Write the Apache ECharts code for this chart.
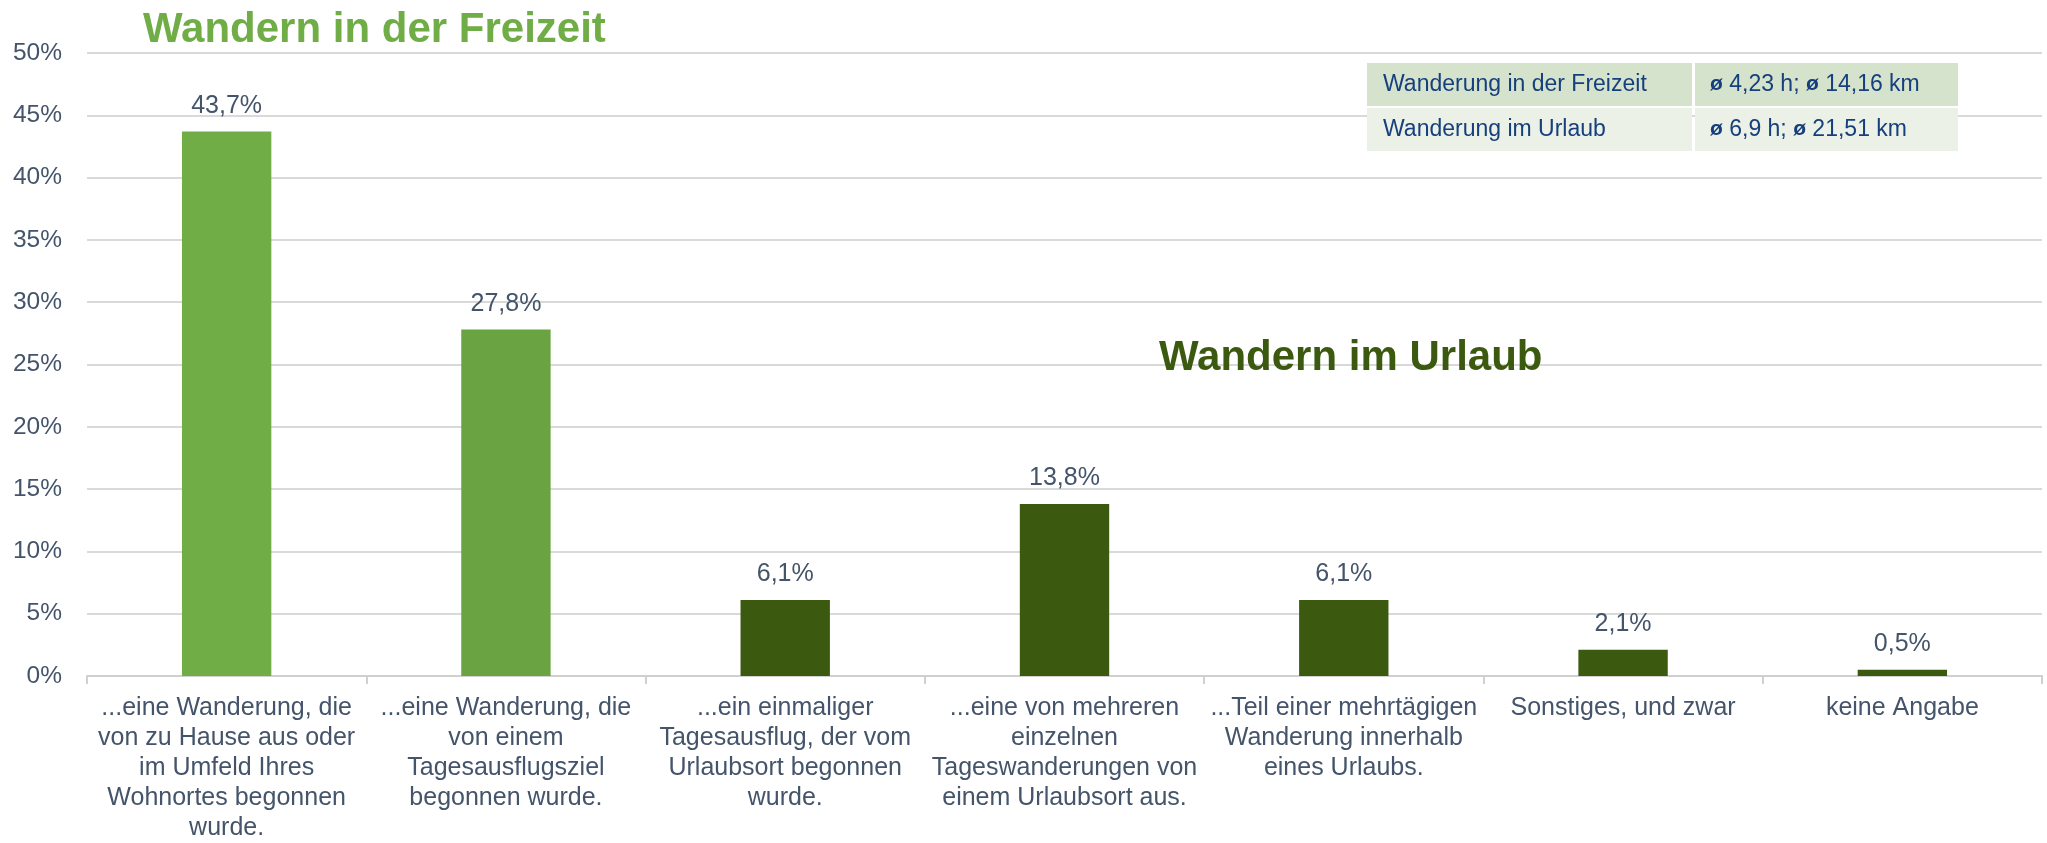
<!DOCTYPE html>
<html lang="de">
<head>
<meta charset="utf-8">
<title>Wandern in der Freizeit / im Urlaub</title>
<script src="https://cdn.jsdelivr.net/npm/echarts@6/dist/echarts.min.js"></script>
<style>
  html, body { margin: 0; padding: 0; background: #ffffff; }
  #chart { width: 2047px; height: 843px; }
</style>
</head>
<body>
<div id="chart"></div>
<script>
// Kategorien (Art der Wanderung)
const categories = [
  '...eine Wanderung, die\nvon zu Hause aus oder\nim Umfeld Ihres\nWohnortes begonnen\nwurde.',
  '...eine Wanderung, die\nvon einem\nTagesausflugsziel\nbegonnen wurde.',
  '...ein einmaliger\nTagesausflug, der vom\nUrlaubsort begonnen\nwurde.',
  '...eine von mehreren\neinzelnen\nTageswanderungen von\neinem Urlaubsort aus.',
  '...Teil einer mehrtägigen\nWanderung innerhalb\neines Urlaubs.',
  'Sonstiges, und zwar',
  'keine Angabe'
];

// Anteile in Prozent
const shares = [43.7, 27.8, 6.1, 13.8, 6.1, 2.1, 0.5];

// Gruppe je Balken: Freizeit oder Urlaub
const groups = ['freizeit', 'freizeit', 'urlaub', 'urlaub', 'urlaub', 'urlaub', 'urlaub'];

// Achsenwerte der y-Achse
const yTicks = [0, 5, 10, 15, 20, 25, 30, 35, 40, 45, 50];

// Überschriften
const headingFreizeit = 'Wandern in der Freizeit';
const headingUrlaub = 'Wandern im Urlaub';

// Kennzahlen-Tabelle
const tableLabels = ['Wanderung in der Freizeit', 'Wanderung im Urlaub'];
const tableHours = ['4,23', '6,9'];
const tableKm = ['14,16', '21,51'];

const FONT = '"Liberation Sans", Arial, sans-serif';
const AXIS_TEXT = '#44546A';
const GRID_LINE = '#D9D9D9';
const GREEN_LIGHT = ['#70AD47', '#69A342'];
const GREEN_DARK = '#3B5A10';
const TABLE_TEXT = '#163F7D';
const TABLE_ROW_BG = ['#D6E3CC', '#EBF1E6'];

const barColors = shares.map((v, i) =>
  groups[i] === 'freizeit' ? GREEN_LIGHT[i % GREEN_LIGHT.length] : GREEN_DARK
);

const fmtPct = v => v.toFixed(1).replace('.', ',') + '%';

// Tabelle als Grafik-Elemente
const tableX = [1367, 1695];
const tableW = [325, 263];
const rowY = [63, 108];
const rowH = 43;
const tableElements = [];
tableLabels.forEach((lbl, r) => {
  tableElements.push({
    type: 'rect',
    shape: { x: tableX[0], y: rowY[r], width: tableW[0], height: rowH },
    style: { fill: TABLE_ROW_BG[r] },
    z: 10
  });
  tableElements.push({
    type: 'rect',
    shape: { x: tableX[1], y: rowY[r], width: tableW[1], height: rowH },
    style: { fill: TABLE_ROW_BG[r] },
    z: 10
  });
  tableElements.push({
    type: 'text',
    x: tableX[0] + 16,
    y: rowY[r] + rowH / 2,
    style: {
      text: lbl,
      fill: TABLE_TEXT,
      font: '23px ' + FONT,
      verticalAlign: 'middle',
      align: 'left'
    },
    z: 11
  });
  tableElements.push({
    type: 'text',
    x: tableX[1] + 15,
    y: rowY[r] + rowH / 2,
    style: {
      text: '{b|ø} ' + tableHours[r] + ' h; {b|ø} ' + tableKm[r] + ' km',
      fill: TABLE_TEXT,
      fontSize: 23,
      fontFamily: FONT,
      verticalAlign: 'middle',
      align: 'left',
      rich: {
        b: { fontWeight: 'bold', fontSize: 21, fill: TABLE_TEXT, fontFamily: FONT }
      }
    },
    z: 11
  });
});

const chart = echarts.init(document.getElementById('chart'), null, { renderer: 'canvas' });

chart.setOption({
  backgroundColor: '#ffffff',
  animation: false,
  textStyle: { fontFamily: FONT },
  grid: { left: 87, right: 5, top: 53, bottom: 151, containLabel: false },
  xAxis: {
    type: 'category',
    data: categories,
    axisLine: { show: true, lineStyle: { color: '#D0D0D0', width: 2 } },
    axisTick: { show: true, length: 8, alignWithLabel: false, lineStyle: { color: '#D0D0D0', width: 2 } },
    axisLabel: {
      interval: 0,
      margin: 17,
      color: AXIS_TEXT,
      fontSize: 25,
      lineHeight: 30,
      fontFamily: FONT,
      align: 'center'
    },
    splitLine: { show: false }
  },
  yAxis: {
    type: 'value',
    min: yTicks[0],
    max: yTicks[yTicks.length - 1],
    interval: yTicks[1] - yTicks[0],
    axisLine: { show: false },
    axisTick: { show: false },
    axisLabel: {
      margin: 25,
      color: AXIS_TEXT,
      fontSize: 24.5,
      fontFamily: FONT,
      formatter: '{value}%'
    },
    splitLine: { show: true, lineStyle: { color: GRID_LINE, width: 2 } }
  },
  series: [{
    type: 'bar',
    barWidth: '32%',
    data: shares.map((v, i) => ({ value: v, itemStyle: { color: barColors[i] } })),
    label: {
      show: true,
      position: 'top',
      distance: 13,
      color: AXIS_TEXT,
      fontSize: 25,
      fontFamily: FONT,
      formatter: p => fmtPct(p.value)
    }
  }],
  graphic: [
    {
      type: 'text',
      x: 143,
      y: 30,
      style: {
        text: headingFreizeit,
        fill: GREEN_LIGHT[0],
        font: 'bold 42px ' + FONT,
        verticalAlign: 'middle',
        align: 'left'
      },
      z: 12
    },
    {
      type: 'text',
      x: 1159,
      y: 358,
      style: {
        text: headingUrlaub,
        fill: GREEN_DARK,
        font: 'bold 42px ' + FONT,
        verticalAlign: 'middle',
        align: 'left'
      },
      z: 12
    }
  ].concat(tableElements)
});
</script>
</body>
</html>
